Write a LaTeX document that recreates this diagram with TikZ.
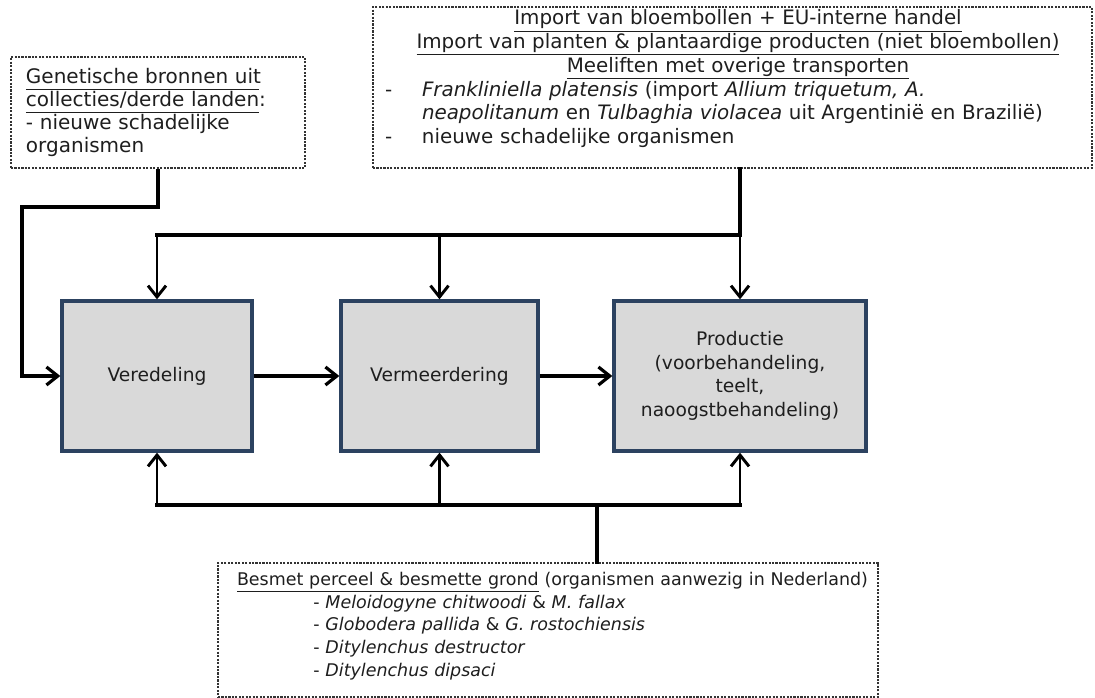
\documentclass[tikz,border=0pt]{standalone}
\usepackage{fontspec}
\setmainfont{DejaVu Sans}
\usetikzlibrary{arrows.meta}
\definecolor{boxfill}{RGB}{217,217,217}
\definecolor{boxline}{RGB}{44,66,96}
\definecolor{txt}{RGB}{30,30,30}
\newcommand\ulx[1]{\underline{#1\vphantom{p}}}
\newlength\genw
\begin{document}
\begin{tikzpicture}[x=0.75pt,y=-0.75pt,
  dbox/.style={draw=black!80, line width=0.8pt, dash pattern=on 1.6pt off 1pt,
    rectangle, inner ysep=0pt, text=txt},
  mbox/.style={draw=boxline, fill=boxfill, line width=2.5pt, rectangle,
    align=center, inner sep=0pt, text=txt,
    font=\fontsize{14pt}{17.6pt}\selectfont},
  bus/.style={line width=2.8pt, line cap=rect, line join=miter},
  arr/.style={line width=2.1pt,
    -{Straight Barb[length=8.5pt,width=13.5pt,line width=2.2pt]}},
  harr/.style={line width=2.6pt,
    -{Straight Barb[length=8.5pt,width=13.5pt,line width=2.4pt]}},
]
\useasboundingbox (0,0) rectangle (1095,698);

% dashed source boxes
\node[dbox, minimum width=220.5pt, minimum height=83.25pt, text width=198pt,
  inner xsep=11.25pt, align=left, font=\fontsize{15pt}{17.25pt}\selectfont]
  (gen) at (158,112.5)
  {\settowidth{\genw}{collecties/derde landen}%
   \ulx{\makebox[\genw][s]{Genetische bronnen uit}}\\ \ulx{collecties/derde landen}:\\
   - nieuwe schadelijke\\ organismen};

\node[dbox, minimum width=539.25pt, minimum height=120.75pt, text width=521.25pt,
  inner xsep=9pt, font=\fontsize{14.9pt}{17.8pt}\selectfont]
  (imp) at (732.5,87.5)
  {{\centering
    \hspace*{8.25pt}\ulx{Import van bloembollen + EU-interne handel}\\
    \hspace*{8.25pt}\ulx{Import van planten \& plantaardige producten (niet bloembollen)}\\
    \hspace*{8.25pt}\ulx{Meeliften met overige transporten}\par}
   {\raggedright
    \makebox[27.75pt][l]{-}\textit{Frankliniella platensis} (import \textit{Allium triquetum, A.}\par
    \hspace*{27.75pt}\textit{neapolitanum} en \textit{Tulbaghia violacea} uit Argentinië en Brazilië)\par
    \makebox[27.75pt][l]{-}nieuwe schadelijke organismen\par}
   \vspace*{13pt}};

\node[dbox, minimum width=495pt, minimum height=100.5pt, text width=480pt,
  inner xsep=4.5pt, align=left, font=\fontsize{13.1pt}{17.06pt}\selectfont]
  (bot) at (548,630)
  {\hspace*{6.75pt}\ulx{Besmet perceel \& besmette grond} (organismen aanwezig in Nederland)\\
   \hspace*{64pt}- \textit{Meloidogyne chitwoodi} \& \textit{M. fallax}\\
   \hspace*{64pt}- \textit{Globodera pallida} \& \textit{G. rostochiensis}\\
   \hspace*{64pt}- \textit{Ditylenchus destructor}\\
   \hspace*{64pt}- \textit{Ditylenchus dipsaci}\par\vspace*{6pt}};

% process boxes
\node[mbox, minimum width=142.5pt, minimum height=112.5pt] (ver) at (157,376) {Veredeling};
\node[mbox, minimum width=147.75pt, minimum height=112.5pt] (verm) at (439.5,376) {Vermeerdering};
\node[mbox, minimum width=189pt, minimum height=112.5pt] (prod) at (740,376)
  {Productie\\(voorbehandeling,\\teelt,\\naoogstbehandeling)};

\coordinate (tb) at (740,235);
\coordinate (bb) at (597,505);
\coordinate (lc) at (22,207);

% top distribution
\draw[bus] (imp.south -| tb) -- (tb);
\draw[bus] (ver.north |- tb) -- (tb);
\draw[arr] (ver.north |- tb) -- (ver.north);
\draw[arr] (verm.north |- tb) -- (verm.north);
\draw[arr] (tb) -- (prod.north);

% left connector from genetic resources
\draw[bus, line cap=butt, -{Straight Barb[length=8.5pt,width=13.5pt,line width=2.4pt]}]
  (gen.south) |- (lc) |- (ver.west);

% process chain
\draw[harr] (ver.east) -- (verm.west);
\draw[harr] (verm.east) -- (prod.west);

% bottom distribution
\draw[bus] (bot.north -| bb) -- (bb);
\draw[bus] (ver.south |- bb) -- (prod.south |- bb);
\draw[arr] (ver.south |- bb) -- (ver.south);
\draw[arr] (verm.south |- bb) -- (verm.south);
\draw[arr] (prod.south |- bb) -- (prod.south);
\end{tikzpicture}
\end{document}
